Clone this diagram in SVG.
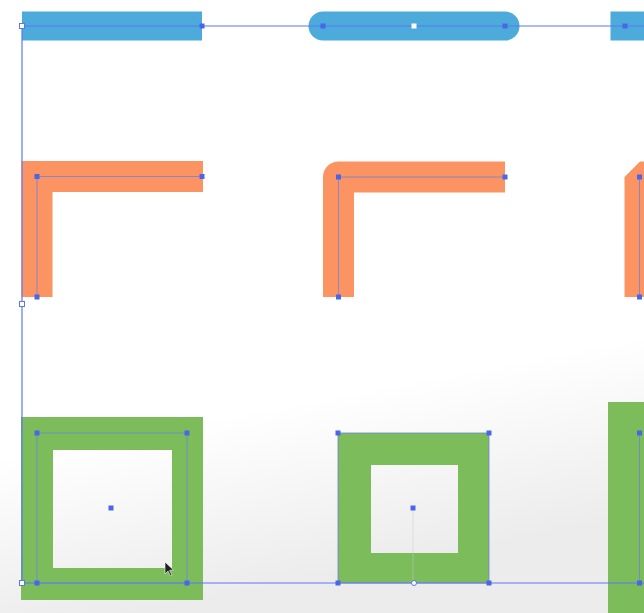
<svg xmlns="http://www.w3.org/2000/svg" width="644" height="613" viewBox="0 0 644 613">
<defs>
<style>
.blue{fill:none;stroke:#4dabdb;stroke-width:29}
.orange{fill:none;stroke:#fb9462;stroke-width:31}
.green{fill:#7dbc5b}
.sel{fill:none;stroke:#5a78ee;stroke-width:1.2}
.path{fill:none;stroke:#6f7fe0;stroke-width:1;opacity:0.8}
.a{fill:#4a64ea}
.h{fill:#fff;stroke:#5a78ee;stroke-width:1}
</style>
<linearGradient id="bg" x1="0" y1="0" x2="0.2" y2="1">
<stop offset="0.72" stop-color="#ffffff"/>
<stop offset="1" stop-color="#ececec"/>
</linearGradient>
</defs>
<rect width="644" height="613" fill="url(#bg)"/>

<g id="cap-butt">
<path class="blue" d="M22 26H202" stroke-linecap="butt"/>
</g>
<g id="cap-round">
<path class="blue" d="M323 26H505" stroke-linecap="round"/>
</g>
<g id="cap-projecting">
<path class="blue" d="M625 26H660" stroke-linecap="square"/>
</g>

<g id="join-miter">
<path class="orange" d="M37 297V176.5H203" stroke-linejoin="miter"/>
</g>
<g id="join-round">
<path class="orange" d="M338.5 297V177H505" stroke-linejoin="round"/>
</g>
<g id="join-bevel">
<path class="orange" d="M640 297V177H680" stroke-linejoin="bevel"/>
</g>

<g id="align-center">
<path class="green" fill-rule="evenodd" d="M21 417H203V600H21Z M53 450V568H172V450Z"/>
</g>
<g id="align-inside">
<path class="green" fill-rule="evenodd" d="M338 433H489V583H338Z M371 465V553H458V465Z"/>
</g>
<g id="align-outside">
<rect class="green" x="608" y="402" width="40" height="215"/>
</g>

<g id="selection">
<path class="sel" d="M22 26H644 M22 26V583 M22 583H644"/>
<path class="path" d="M37 297V176.5H202 M338.5 297V177H505 M639.5 297V177"/>
<path class="path" d="M37 433H187V583H37Z M338 433H489V583H338Z M639.5 433V583"/>
<path d="M413 508V583" stroke="#c8c8c8" stroke-width="0.8" opacity="0.6"/>
<rect class="h" x="19.5" y="23.5" width="5" height="5"/>
<rect class="h" x="19.5" y="301.5" width="5" height="5"/>
<rect class="h" x="19.5" y="580.5" width="5" height="5"/>
<circle class="h" cx="414" cy="583" r="2.5"/>
<g class="a">
<rect x="199.5" y="23.5" width="5" height="5"/>
<rect x="320.5" y="23.5" width="5" height="5"/>
<rect x="502.5" y="23.5" width="5" height="5"/>
<rect x="622.5" y="23.5" width="5" height="5"/>
<rect x="34.5" y="174" width="5" height="5"/>
<rect x="199.5" y="174" width="5" height="5"/>
<rect x="34.5" y="294.5" width="5" height="5"/>
<rect x="336" y="174.5" width="5" height="5"/>
<rect x="502.5" y="174.5" width="5" height="5"/>
<rect x="336" y="294.5" width="5" height="5"/>
<rect x="637" y="174.5" width="5" height="5"/>
<rect x="637" y="294.5" width="5" height="5"/>
<rect x="34.5" y="430.5" width="5" height="5"/>
<rect x="184.5" y="430.5" width="5" height="5"/>
<rect x="34.5" y="580.5" width="5" height="5"/>
<rect x="184.5" y="580.5" width="5" height="5"/>
<rect x="108.5" y="505.5" width="5" height="5"/>
<rect x="335.5" y="430.5" width="5" height="5"/>
<rect x="486.5" y="430.5" width="5" height="5"/>
<rect x="335.5" y="580.5" width="5" height="5"/>
<rect x="486.5" y="580.5" width="5" height="5"/>
<rect x="410.5" y="505.5" width="5" height="5"/>
<rect x="637" y="430.5" width="5" height="5"/>
<rect x="637" y="580.5" width="5" height="5"/>
</g>
<rect class="h" x="411.5" y="23.5" width="5" height="5" style="stroke:none"/>
</g>

<g id="cursor">
<path d="M165 562V574L168 571L170.5 576L172 575.2L169.6 570.4L173.5 570Z" fill="#222" stroke="#fff" stroke-width="0.6"/>
</g>
</svg>
